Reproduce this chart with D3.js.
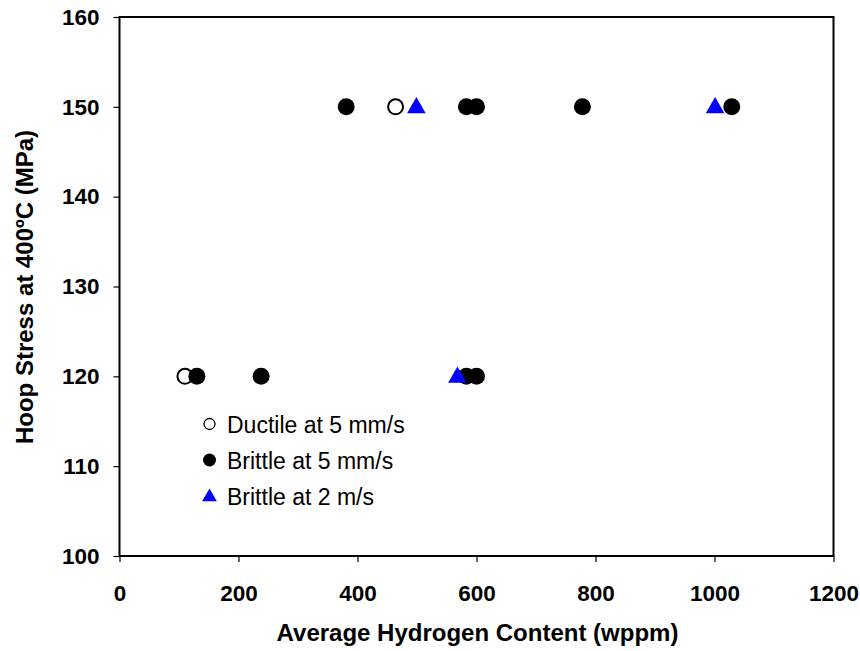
<!DOCTYPE html>
<html><head><meta charset="utf-8">
<script src="https://cdn.jsdelivr.net/npm/d3@7"></script>
<style>body{margin:0;background:#fff;} text{font-family:"Liberation Sans",Arial,sans-serif;}</style>
</head><body>
<svg id="c" width="860" height="651"></svg>
<script>
const ductile5X = [464, 110];
const ductile5Y = [150, 120];
const brittle5X = [381, 583, 600, 778, 1029, 130, 238, 583, 600];
const brittle5Y = [150, 150, 150, 150, 150, 120, 120, 120, 120];
const brittle2X = [499, 1001, 568];
const brittle2Y = [150, 150, 120];
const xTicks = [0, 200, 400, 600, 800, 1000, 1200];
const yTicks = [100, 110, 120, 130, 140, 150, 160];
const legendLabels = ["Ductile at 5 mm/s", "Brittle at 5 mm/s", "Brittle at 2 m/s"];

const svg = d3.select("#c");
const L = 119.5, R = 833.5, T = 17, B = 556;
const x = d3.scaleLinear().domain([0, 1200]).range([L, R]);
const y = d3.scaleLinear().domain([100, 160]).range([B, T]);

// frame
svg.append("rect").attr("x", L).attr("y", T).attr("width", R - L).attr("height", B - T)
  .attr("fill", "none").attr("stroke", "#000").attr("stroke-width", 2);

const xa = svg.append("g").attr("transform", `translate(0,${B})`)
  .call(d3.axisBottom(x).tickValues(xTicks).tickSize(6).tickPadding(23).tickFormat(d3.format("d")));
const ya = svg.append("g").attr("transform", `translate(${L},0)`)
  .call(d3.axisLeft(y).tickValues(yTicks).tickSize(6).tickPadding(14).tickFormat(d3.format("d")));
[xa, ya].forEach(a => {
  a.select(".domain").remove();
  a.selectAll("line").attr("stroke", "#000").attr("stroke-width", 1.2);
  a.selectAll("text").attr("font-family", "Liberation Sans, Arial, sans-serif")
    .attr("font-size", 22.5).attr("font-weight", "bold").attr("fill", "#000");
});

svg.append("text").attr("x", (L + R) / 2 + 1).attr("y", 641).attr("text-anchor", "middle")
  .attr("font-size", 24).attr("font-weight", "bold").text("Average Hydrogen Content (wppm)");
svg.append("text").attr("transform", `translate(33,${287}) rotate(-90)`).attr("text-anchor", "middle")
  .attr("font-size", 24).attr("font-weight", "bold").text("Hoop Stress at 400ºC (MPa)");

const r = 8.5;
const tri = d3.symbol().type(d3.symbolTriangle).size(150);
// series
svg.append("g").selectAll("circle").data(ductile5X.map((v, i) => [v, ductile5Y[i]])).join("circle")
  .attr("cx", d => x(d[0])).attr("cy", d => y(d[1])).attr("r", r - 1)
  .attr("fill", "#fff").attr("stroke", "#000").attr("stroke-width", 2);
svg.append("g").selectAll("circle").data(brittle5X.map((v, i) => [v, brittle5Y[i]])).join("circle")
  .attr("cx", d => x(d[0])).attr("cy", d => y(d[1])).attr("r", r).attr("fill", "#000");
svg.append("g").selectAll("path").data(brittle2X.map((v, i) => [v, brittle2Y[i]])).join("path")
  .attr("d", tri).attr("transform", d => `translate(${x(d[0])},${y(d[1]) + 1})`).attr("fill", "#0000ff");

// legend
const lg = svg.append("g");
const ly = [424, 460, 496];
lg.append("circle").attr("cx", 209.5).attr("cy", ly[0]).attr("r", 5.5).attr("fill", "#fff").attr("stroke", "#000").attr("stroke-width", 1.3);
lg.append("circle").attr("cx", 209.5).attr("cy", ly[1]).attr("r", 6.5).attr("fill", "#000");
lg.append("path").attr("d", d3.symbol().type(d3.symbolTriangle).size(95)).attr("transform", `translate(209.5,${ly[2] + 1})`).attr("fill", "#0000ff");
legendLabels.forEach((t, i) => {
  lg.append("text").attr("x", 227).attr("y", ly[i] + 9).attr("font-size", 23).attr("fill", "#000").text(t);
});
</script>
</body></html>
